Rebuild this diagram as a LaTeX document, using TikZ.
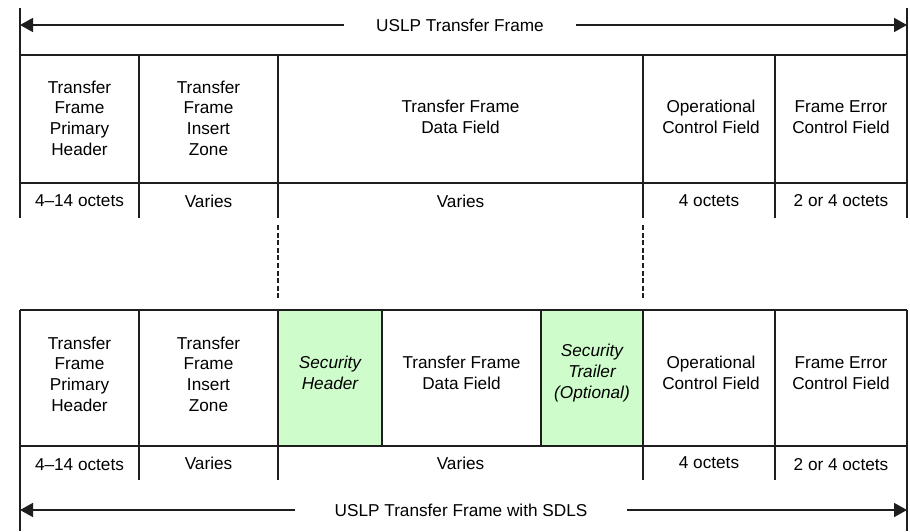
\documentclass[tikz,border=0pt]{standalone}
\usepackage{fontspec}
\setmainfont{Liberation Sans}
\usetikzlibrary{arrows.meta}

\definecolor{secgreen}{RGB}{206,252,202}
\definecolor{rulegray}{RGB}{30,30,30}

\tikzset{
  frameline/.style={line width=0.8pt, draw=rulegray},
  gapline/.style={line width=0.8pt, draw=rulegray, dash pattern=on 2.5pt off 1.3pt},
  fieldtext/.style={align=center, inner sep=0pt, font=\fontsize{8.6}{10.35}\selectfont},
  sectext/.style={fieldtext, font=\fontsize{8.6}{10.35}\selectfont\itshape},
  dimlabel/.style={inner ysep=2pt, font=\fontsize{8.6}{10.35}\selectfont},
  dimarrow/.style={line width=0.8pt, draw=rulegray, -{Triangle[length=6.5pt,width=7pt]}}
}

\begin{document}
\begin{tikzpicture}[x=0.5pt, y=-0.5pt]
    \useasboundingbox (0,0) rectangle (910,531);

    % Upper frame: outline and columns
    \draw[frameline] (20,55) -- (907,55);
    \draw[frameline] (20,183) -- (907,183);
    \draw[frameline] (20,8) -- (20,218);
    \draw[frameline] (907,8) -- (907,218);
    \foreach \x in {139,278,643,775}
        \draw[frameline] (\x,55) -- (\x,218);

    % Upper frame: dimension arrow
    \coordinate (upL) at (20,25);
    \coordinate (upR) at (907,25);
    \node[dimlabel, inner xsep=16pt] (uplbl) at (460,25) {USLP Transfer Frame};
    \draw[dimarrow] (uplbl) -- (upL);
    \draw[dimarrow] (uplbl) -- (upR);

    % Upper frame: fields
    \node[fieldtext] (upPH) at (79.5,118) {Transfer\\Frame\\Primary\\Header};
    \node[fieldtext] (upIZ) at (208.5,118) {Transfer\\Frame\\Insert\\Zone};
    \node[fieldtext] (upDF) at (460.5,117) {Transfer Frame\\Data Field};
    \node[fieldtext] (upOC) at (711,117) {Operational\\Control Field};
    \node[fieldtext] (upFE) at (841,117) {Frame Error\\Control Field};

    \node[fieldtext] (upPHn) at (79.5,201) {4--14 octets};
    \node[fieldtext] (upIZn) at (208.5,201) {Varies};
    \node[fieldtext] (upDFn) at (460.5,201) {Varies};
    \node[fieldtext] (upOCn) at (709,201) {4 octets};
    \node[fieldtext] (upFEn) at (841,201) {2 or 4 octets};

    % Data field boundaries carried down
    \coordinate (gapA1) at (278,225);
    \coordinate (gapA2) at (278,300);
    \coordinate (gapB1) at (643,225);
    \coordinate (gapB2) at (643,300);
    \draw[gapline] (gapA1) -- (gapA2);
    \draw[gapline] (gapB1) -- (gapB2);

    % Lower frame: security fields
    \fill[secgreen] (278,310) rectangle (382,446);
    \fill[secgreen] (541,310) rectangle (643,446);

    % Lower frame: outline and columns
    \draw[frameline] (20,310) -- (907,310);
    \draw[frameline] (20,446) -- (907,446);
    \draw[frameline] (20,310) -- (20,531);
    \draw[frameline] (907,310) -- (907,531);
    \foreach \x in {139,278,643,775}
        \draw[frameline] (\x,310) -- (\x,480);
    \foreach \x in {382,541}
        \draw[frameline] (\x,310) -- (\x,446);

    % Lower frame: fields
    \node[fieldtext] (loPH) at (79.5,374) {Transfer\\Frame\\Primary\\Header};
    \node[fieldtext] (loIZ) at (208.5,374) {Transfer\\Frame\\Insert\\Zone};
    \node[sectext] (loSH) at (330,373) {Security\\Header};
    \node[fieldtext] (loDF) at (461.5,373) {Transfer Frame\\Data Field};
    \node[sectext] (loST) at (592,373) {Security\\Trailer\\(Optional)};
    \node[fieldtext] (loOC) at (711,373) {Operational\\Control Field};
    \node[fieldtext] (loFE) at (841,373) {Frame Error\\Control Field};

    \node[fieldtext] (loPHn) at (79.5,465) {4--14 octets};
    \node[fieldtext] (loIZn) at (208.5,463) {Varies};
    \node[fieldtext] (loDFn) at (460.5,463) {Varies};
    \node[fieldtext] (loOCn) at (709,463) {4 octets};
    \node[fieldtext] (loFEn) at (841,465) {2 or 4 octets};

    % Lower frame: dimension arrow
    \coordinate (loL) at (20,510);
    \coordinate (loR) at (907,510);
    \node[dimlabel, inner xsep=19.5pt] (lolbl) at (461,510) {USLP Transfer Frame with SDLS};
    \draw[dimarrow] (lolbl) -- (loL);
    \draw[dimarrow] (lolbl) -- (loR);
\end{tikzpicture}
\end{document}
